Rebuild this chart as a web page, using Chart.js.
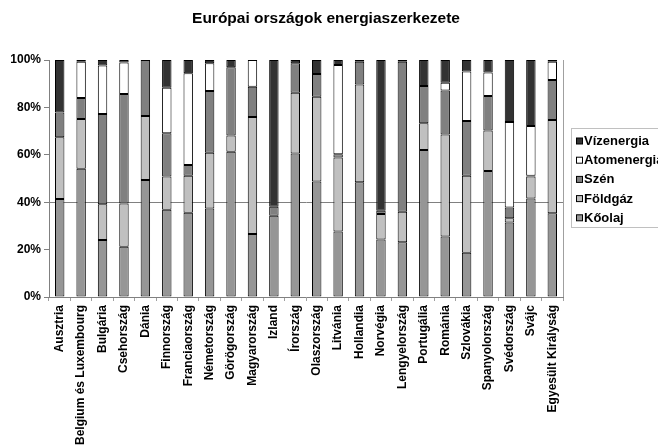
<!DOCTYPE html>
<html>
<head>
<meta charset="utf-8">
<script src="https://cdn.jsdelivr.net/npm/chart.js@4/dist/chart.umd.min.js"></script>
<style>
  body { margin: 0; background: #fff; }
</style>
</head>
<body>
<canvas id="chart" width="658" height="448"></canvas>
<script>
const countries = ["Ausztria", "Belgium és Luxembourg", "Bulgária", "Csehország", "Dánia", "Finnország",
    "Franciaország", "Németország", "Görögország", "Magyarország", "Izland", "Írország", "Olaszország",
    "Litvánia", "Hollandia", "Norvégia", "Lengyelország", "Portugália", "Románia", "Szlovákia",
    "Spanyolország", "Svédország", "Svájc", "Egyesült Királyság"];

const koolaj = [41.3, 54.1, 24.1, 21.2, 49.4, 36.8, 35.6, 37.3, 61.3, 26.6, 34.3, 60.6, 48.7, 27.6, 48.4, 24.3, 23.1, 62.0, 25.5, 18.7, 53.2, 31.4, 41.6, 35.3];
const foldgaz = [26.1, 21.0, 15.0, 18.2, 27.0, 14.0, 15.6, 23.6, 6.8, 49.3, 0, 25.6, 35.8, 31.3, 41.3, 10.7, 12.9, 11.3, 43.1, 32.5, 17.1, 1.8, 9.2, 39.4];
const szen = [10.5, 8.9, 38.1, 46.3, 23.6, 18.3, 4.5, 26.0, 28.8, 12.8, 3.8, 12.4, 9.6, 1.3, 9.6, 1.4, 63.3, 15.7, 18.5, 23.1, 14.5, 4.6, 0.4, 16.9];
const atom = [0, 15.3, 20.5, 13.2, 0, 19.2, 38.7, 11.7, 0, 11.3, 0, 0, 0, 37.7, 0.7, 0, 0, 0, 3.3, 20.8, 9.9, 36.0, 21.0, 7.7];
const viz = [22.1, 0.7, 2.3, 1.1, 0, 11.7, 5.6, 1.4, 3.1, 0, 61.9, 1.4, 5.9, 2.1, 0, 63.6, 0.7, 11.0, 9.6, 4.9, 5.3, 26.2, 27.8, 0.7];

const yTicks = [0, 20, 40, 60, 80, 100];

const FONT = "'Liberation Sans', Arial, sans-serif";

function ds(label, data, color) {
    return { label: label, data: data, backgroundColor: color, borderColor: "#000", borderWidth: 1,
             borderSkipped: false, barPercentage: 0.44, categoryPercentage: 1 };
}

// title, legend box and right plot border drawn by hand
const extras = {
    id: "extras",
    afterDraw(chart) {
        const c = chart.ctx;
        const a = chart.chartArea;
        c.save();
        c.strokeStyle = "#a0a0a0";
        c.lineWidth = 1;
        c.beginPath();
        c.moveTo(Math.round(a.right) + 0.5, a.top);
        c.lineTo(Math.round(a.right) + 0.5, a.bottom);
        c.stroke();

        c.fillStyle = "#000";
        c.font = "bold 15.5px " + FONT;
        c.textAlign = "center";
        c.textBaseline = "middle";
        c.fillText("Európai országok energiaszerkezete", 326, 19);

        c.strokeStyle = "#c0c0c0";
        c.strokeRect(571.5, 128.5, 100, 99);
        c.font = "bold 13px " + FONT;
        c.textAlign = "left";
        const sets = chart.data.datasets;
        let y = 141.5;
        for (let i = sets.length - 1; i >= 0; i--) {
            c.fillStyle = sets[i].backgroundColor;
            c.fillRect(576.5, y - 3.5, 6, 6);
            c.strokeStyle = "#000";
            c.strokeRect(576.5, y - 3.5, 6, 6);
            c.fillStyle = "#000";
            c.fillText(sets[i].label, 584, y);
            y += 19.2;
        }
        c.restore();
    }
};

const ctx = document.getElementById("chart").getContext("2d");
const chart = new Chart(ctx, {
    type: "bar",
    data: {
        labels: countries,
        datasets: [
            ds("Kőolaj", koolaj, "#969696"),
            ds("Földgáz", foldgaz, "#c0c0c0"),
            ds("Szén", szen, "#808080"),
            ds("Atomenergia", atom, "#ffffff"),
            ds("Vízenergia", viz, "#333333")
        ]
    },
    options: {
        responsive: false,
        animation: false,
        layout: { padding: { top: 60, right: 95, left: 0, bottom: 0 } },
        plugins: {
            legend: { display: false },
            title: { display: false },
            tooltip: { enabled: false }
        },
        scales: {
            x: {
                stacked: true,
                grid: { drawOnChartArea: false, tickLength: 4, color: "#a0a0a0", offset: true },
                border: { color: "#808080" },
                ticks: { minRotation: 90, maxRotation: 90, autoSkip: false, padding: 4,
                         color: "#000", font: { family: FONT, size: 12, weight: "bold" } },
                afterFit(scale) { scale.height = 151; }
            },
            y: {
                stacked: true,
                min: 0, max: 100,
                afterBuildTicks(scale) { scale.ticks = yTicks.map(v => ({ value: v })); },
                grid: {
                    color: c => (c.tick && c.tick.value === 40 ? "#808080" : "rgba(0,0,0,0)"),
                    tickColor: "#808080", tickLength: 5
                },
                border: { color: "#808080" },
                ticks: { padding: 3, color: "#000", font: { family: FONT, size: 12, weight: "bold" },
                         callback: v => v + "%" },
                afterFit(scale) { scale.width = 49; }
            }
        }
    },
    plugins: [extras]
});
</script>
</body>
</html>
